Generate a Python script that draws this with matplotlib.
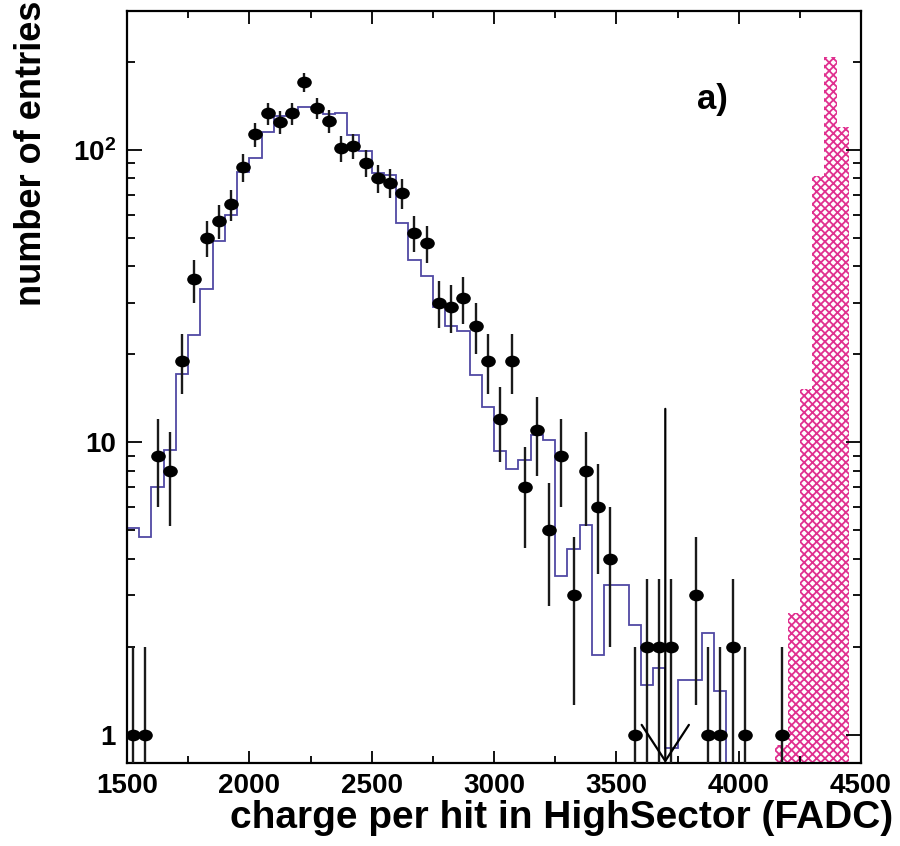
import numpy as np
import matplotlib
matplotlib.use('Agg')
import matplotlib.pyplot as plt
from matplotlib.path import Path
from matplotlib.ticker import FixedLocator, FixedFormatter, MultipleLocator, NullFormatter

# --- histogram binning (50 FADC per bin) ---
BIN_LO, BIN_W = 1500, 50
CUT = 3700

# data: entries per bin, 1500 -> 4500
data_counts = [1, 1, 9, 8, 19, 36, 50, 57, 65, 87,
               113, 133, 124, 133, 170, 139, 125, 101, 103, 90,
               80, 77, 71, 52, 48, 30, 29, 31, 25, 19,
               12, 19, 7, 11, 5, 9, 3, 8, 6, 4,
               0, 1, 2, 2, 2, 0, 3, 1, 1, 2,
               1, 0, 0, 1, 0, 0, 0, 0, 0, 0]

# simulation (blue line), 1500 -> 3950
mc_counts = [5.1, 4.75, 7.0, 9.4, 17.1, 23.3, 33.4, 48.6, 60, 84,
             94, 115, 130, 132, 140, 140, 132, 134, 112, 99,
             83, 82, 56, 42, 37, 29, 25, 24, 17, 13.2,
             9.3, 8.1, 8.7, 10.6, 10.2, 3.5, 4.3, 5.2, 1.87, 3.25,
             3.25, 2.37, 1.48, 1.69, 0.9, 1.54, 1.54, 2.23, 1.41]

# pink histogram, 4150 -> 4450
pink_start = 4150
pink_counts = [0.92, 2.6, 15.2, 81, 208, 120]

plt.rcParams['font.family'] = ['Liberation Sans', 'DejaVu Sans']
plt.rcParams['font.weight'] = 'bold'
plt.rcParams['mathtext.fontset'] = 'custom'
plt.rcParams['mathtext.rm'] = 'Liberation Sans:bold'
plt.rcParams['mathtext.default'] = 'rm'
plt.rcParams['hatch.linewidth'] = 1.3

YMIN, YMAX = 0.8, 298

fig = plt.figure(figsize=(9, 8.46), dpi=100)
ax = fig.add_axes([0.1411, 0.0981, 0.8156, 0.8889])

# pink histogram
pink_edges = pink_start + BIN_W * np.arange(len(pink_counts) + 1)
ax.stairs(pink_counts, pink_edges, baseline=0.01, fill=True,
          facecolor='white', edgecolor='#e0308f', hatch='xxxx', lw=0, zorder=1)

# MC step line
mc_edges = BIN_LO + BIN_W * np.arange(len(mc_counts) + 1)
ax.stairs(mc_counts, mc_edges, baseline=0.01, color='#5049a4', lw=1.3, zorder=2)

# data points with sqrt(N) errors
counts = np.array(data_counts, dtype=float)
centers = BIN_LO + BIN_W * (np.arange(len(counts)) + 0.5)
sel = counts > 0
x, n = centers[sel], counts[sel]
err = np.sqrt(n)
lo = np.maximum(n - err, 0.01)
hi = n + err
ax.vlines(x, lo, hi, color='#1a1a1a', lw=1.7, zorder=3)
circ = Path.unit_circle()
ell = Path(circ.vertices * [1.0, 0.78], circ.codes)
ax.plot(x, n, ls='none', marker=ell, ms=9.5, color='black', zorder=4)

# cut line with arrow
ax.annotate('', xy=(CUT, YMIN), xytext=(CUT, 13),
            arrowprops=dict(arrowstyle='->,head_length=1.3,head_width=0.85',
                            lw=1.6, color='black', mutation_scale=20,
                            shrinkA=0, shrinkB=0), zorder=5)

ax.set_xlim(1500, 4500)
ax.set_yscale('log')
ax.set_ylim(YMIN, YMAX)

ax.xaxis.set_major_locator(MultipleLocator(500))
ax.xaxis.set_minor_locator(MultipleLocator(250))
ax.yaxis.set_major_locator(FixedLocator([1, 10, 100]))
ax.yaxis.set_major_formatter(FixedFormatter(['1', '10', r'$10^{2}$']))
ax.yaxis.set_minor_locator(FixedLocator([k * 10**e for e in range(0, 3) for k in range(2, 10)]))
ax.yaxis.set_minor_formatter(NullFormatter())

ax.tick_params(which='both', direction='in', top=True, right=True, width=1.3)
ax.tick_params(axis='x', which='major', length=9, pad=7, labelsize=20)
ax.tick_params(axis='x', which='minor', length=5)
ax.tick_params(axis='y', which='major', length=11, pad=8, labelsize=20)
ax.tick_params(axis='y', which='minor', length=6)
for s in ax.spines.values():
    s.set_linewidth(1.6)

ax.text(0.798, 0.882, 'a)', transform=ax.transAxes, fontsize=25,
        fontweight='bold', ha='center', va='center')

fig.text(893 / 900, 1 - 818 / 846, 'charge per hit in HighSector (FADC)',
         fontsize=28, fontweight='bold', ha='right', va='center')
fig.text(32 / 900, 0.999, 'number of entries', rotation=90,
         fontsize=26, fontweight='bold', ha='center', va='top')

fig.savefig('out.png', dpi=100)
